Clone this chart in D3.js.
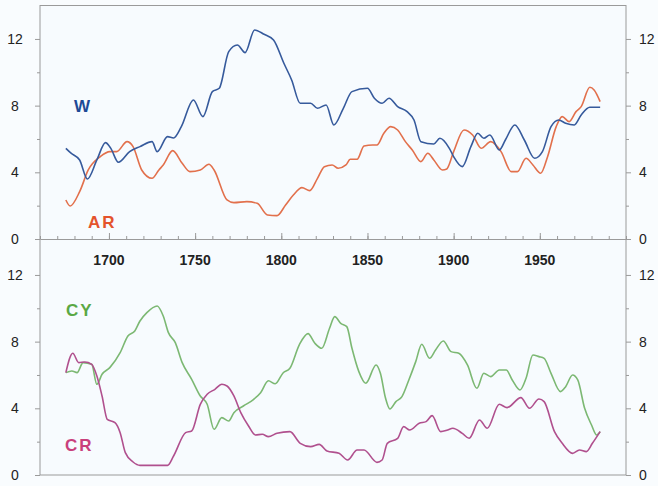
<!DOCTYPE html>
<html lang="en">
<head>
  <meta charset="UTF-8">
  <title>W, AR, CY, CR series</title>
  <style>
    body { margin: 0; background: #f9fcfe; }
    svg { display: block; font-family: "Liberation Sans", Arial, sans-serif; }
  </style>
  <script src="https://d3js.org/d3.v7.min.js"></script>
</head>
<body>
  <div id="chart"></div>

  <script>
    // values, [year, value]
    const wYears  = [1675,1678,1683,1687.5,1693,1698,1701,1705.5,1712,1718,1725,1728,1734,1737.5,1742,1749,1754.5,1760,1764,1769.5,1774.5,1779,1784.5,1790,1795.5,1801.5,1806,1811,1817,1821,1826,1830.5,1836,1841,1850,1854,1858.5,1862.5,1867.5,1873,1877,1881,1888.5,1892,1897.5,1900,1905,1910,1914,1917.5,1921,1926.5,1930,1935.5,1941,1947,1951.5,1956.5,1961,1965,1970,1974,1979,1985];
    const wValues = [5.44,5.15,4.74,3.6,4.74,5.78,5.45,4.6,5.24,5.54,5.84,5.24,6.14,6.06,6.74,8.34,7.34,8.84,9.04,11.24,11.64,11.18,12.54,12.28,11.94,10.54,9.54,8.14,8.14,7.84,8.04,6.84,7.84,8.84,9.04,8.44,8.14,8.44,7.94,7.64,7.14,5.84,5.7,6.04,5.44,4.94,4.34,5.54,6.34,6.04,6.24,5.34,5.94,6.84,5.94,4.84,5.24,6.74,7.14,6.94,6.84,7.44,7.9,7.9];

    const arYears  = [1675,1677.5,1683,1688,1695,1700.5,1704.5,1710.5,1714,1719,1725,1729,1731.5,1737,1742.5,1747,1753,1758,1761,1768.5,1772.5,1780,1786,1792,1797.5,1802.5,1807,1812,1816.5,1821,1825,1829.5,1833,1837.5,1840,1844,1848,1853,1855.5,1859.5,1863.5,1867.5,1872,1876,1881,1885,1888.5,1893.5,1896,1900,1906,1911,1916,1921.5,1927.5,1933.5,1937,1942,1946,1950.5,1954.5,1959.5,1963,1967,1971,1974,1979,1981.5,1985];
    const arValues = [2.34,1.98,2.84,4.14,4.94,5.24,5.24,5.84,5.54,4.14,3.64,4.14,4.44,5.3,4.54,4.04,4.14,4.48,4.14,2.34,2.18,2.24,2.14,1.44,1.4,2.04,2.64,3.08,2.9,3.64,4.34,4.44,4.24,4.44,4.78,4.78,5.58,5.64,5.64,6.34,6.74,6.54,5.84,5.34,4.64,5.14,4.74,4.14,4.2,5.24,6.54,6.24,5.44,5.84,5.24,4.04,4.04,4.84,4.44,3.94,4.94,6.74,7.34,7.04,7.64,7.94,9.1,8.94,8.24];

    const cyYears  = [1675,1678.5,1681.5,1685,1690,1693,1696,1700.5,1706.5,1711,1715,1718,1722,1728,1731.5,1734.5,1738.5,1742.5,1748,1753,1757,1761,1765.5,1769.5,1772.5,1778,1784,1788,1792.5,1796.5,1801,1805,1810.5,1815.5,1819.5,1823.5,1828,1831,1834.5,1838,1841,1845,1849,1855,1857.5,1860.5,1863,1866.5,1870,1874,1878,1881.5,1886,1889.5,1894,1898.5,1903,1908,1913.5,1917.5,1921.5,1926.5,1930.5,1934,1938.5,1942,1946,1949.5,1952.5,1956.5,1962,1965,1969,1972,1976,1980,1983,1985];
    const cyValues = [6.14,6.24,6.14,6.74,6.64,5.44,6.04,6.44,7.34,8.34,8.64,9.24,9.74,10.14,9.54,8.54,7.94,6.74,5.74,4.74,4.24,2.74,3.44,3.24,3.74,4.14,4.54,4.94,5.65,5.47,6.12,6.4,7.82,8.48,7.9,7.6,8.8,9.5,9.1,8.9,7.6,6.2,5.5,6.6,6.1,4.6,3.96,4.4,4.7,5.7,6.8,7.84,7.0,7.5,8.04,7.4,7.3,6.6,5.2,6.1,5.9,6.3,6.3,5.7,5.1,5.8,7.2,7.1,7.0,6.1,5.0,5.3,6.0,5.7,4.0,3.0,2.4,2.6];

    const crYears  = [1675,1679,1682.5,1686,1690,1693,1696,1699,1703.5,1706.5,1709.5,1714,1718,1734,1737.5,1744.5,1748,1753,1757,1761.5,1765.5,1768.5,1772.5,1776.5,1781,1785,1789,1792.5,1797.5,1805,1811,1817,1822,1826.5,1833.5,1838.5,1844,1848,1855.5,1858.5,1861.5,1867.5,1871,1874.5,1880,1884,1887.5,1892.5,1896.5,1899.5,1905,1909,1915,1919.5,1926.5,1931,1939,1944,1949.5,1952.5,1958.5,1963,1969,1973,1977,1980.5,1985];
    const crValues = [6.14,7.3,6.74,6.78,6.64,5.94,4.74,3.34,3.14,2.54,1.34,0.78,0.58,0.58,1.14,2.54,2.64,4.24,4.84,5.14,5.44,5.34,4.74,3.74,2.94,2.4,2.44,2.3,2.5,2.6,1.9,1.7,1.84,1.44,1.3,0.9,1.5,1.5,0.76,0.9,1.9,2.2,2.9,2.7,3.1,3.2,3.56,2.6,2.7,2.8,2.5,2.2,3.3,2.8,4.24,4.04,4.64,4.0,4.56,4.4,2.6,1.9,1.3,1.5,1.4,1.9,2.6];

    const yTicks = [0, 4, 8, 12];
    const yMinorTicks = [2, 6, 10];
    const xTicks = [1700, 1750, 1800, 1850, 1900, 1950];

    const width = 658, height = 486;
    const left = 40, right = 626;

    const svg = d3.select("#chart")
      .append("svg")
      .attr("width", width)
      .attr("height", height);

    const x = d3.scaleLinear().domain([1660, 2000]).range([left, right]);
    const y1 = d3.scaleLinear().domain([0, 14]).range([239, 5.6]);
    const y2 = d3.scaleLinear().domain([0, 14]).range([475, 241.6]);

    const frameColor = "#9a9a9a";

    // frame
    svg.append("rect")
      .attr("x", left).attr("y", 5.5)
      .attr("width", right - left).attr("height", 475 - 5.5)
      .attr("fill", "#f7fbfe")
      .attr("stroke", frameColor)
      .attr("stroke-width", 1);

    function yAxes(yScale) {
      svg.append("g")
        .attr("transform", `translate(${left},0)`)
        .call(d3.axisLeft(yScale).tickValues(yTicks).tickSize(5).tickFormat(""))
        .call(g => g.select(".domain").remove())
        .call(g => g.selectAll("line").attr("stroke", frameColor));
      svg.append("g")
        .attr("transform", `translate(${left},0)`)
        .call(d3.axisLeft(yScale).tickValues(yMinorTicks).tickSize(3).tickFormat(""))
        .call(g => g.select(".domain").remove())
        .call(g => g.selectAll("line").attr("stroke", frameColor));
      svg.append("g")
        .attr("transform", `translate(${right},0)`)
        .call(d3.axisRight(yScale).tickValues(yTicks).tickSize(5).tickFormat(""))
        .call(g => g.select(".domain").remove())
        .call(g => g.selectAll("line").attr("stroke", frameColor));
      svg.append("g")
        .attr("transform", `translate(${right},0)`)
        .call(d3.axisRight(yScale).tickValues(yMinorTicks).tickSize(3).tickFormat(""))
        .call(g => g.select(".domain").remove())
        .call(g => g.selectAll("line").attr("stroke", frameColor));

      yTicks.forEach(function(t) {
        svg.append("text")
          .attr("x", 15).attr("y", yScale(t) + 5)
          .attr("text-anchor", "middle")
          .style("font-size", "14px")
          .attr("fill", "#222")
          .text(t);
        svg.append("text")
          .attr("x", 639).attr("y", yScale(t) + 5)
          .attr("text-anchor", "start")
          .style("font-size", "14px")
          .attr("fill", "#222")
          .text(t);
      });
    }
    yAxes(y1);
    yAxes(y2);

    // x axis on the panel divider, ticks pointing up
    svg.append("g")
      .attr("transform", "translate(0,239)")
      .call(d3.axisTop(x).tickValues(d3.range(1670, 2000, 10)).tickSize(3).tickFormat(""))
      .call(g => g.selectAll("line").attr("stroke", frameColor))
      .call(g => g.select(".domain").attr("stroke", frameColor));
    svg.append("g")
      .attr("transform", "translate(0,239)")
      .call(d3.axisTop(x).tickValues(xTicks).tickSize(6).tickFormat(""))
      .call(g => g.select(".domain").remove())
      .call(g => g.selectAll("line").attr("stroke", frameColor));

    xTicks.forEach(function(t) {
      svg.append("text")
        .attr("x", x(t)).attr("y", 265)
        .attr("text-anchor", "middle")
        .style("font-size", "14px")
        .style("font-weight", "bold")
        .attr("fill", "#222")
        .text(t);
    });

    function drawLine(years, values, yScale, color) {
      const pts = years.map((yr, i) => [yr, values[i]]);
      svg.append("path")
        .datum(pts)
        .attr("fill", "none")
        .attr("stroke", color)
        .attr("stroke-width", 1.6)
        .attr("stroke-linejoin", "round")
        .attr("d", d3.line()
          .x(d => x(d[0]))
          .y(d => yScale(d[1]))
          .curve(d3.curveMonotoneX));
    }

    drawLine(arYears, arValues, y1, "#e2704c");
    drawLine(wYears, wValues, y1, "#365a9c");
    drawLine(cyYears, cyValues, y2, "#7cb873");
    drawLine(crYears, crValues, y2, "#b0508e");

    function label(txt, lx, ly, color) {
      svg.append("text")
        .attr("x", lx).attr("y", ly)
        .style("font-size", "17px")
        .style("font-weight", "bold")
        .style("letter-spacing", "2px")
        .attr("fill", color)
        .text(txt);
    }
    label("W", 74, 112, "#1d4a96");
    label("AR", 88, 228, "#e4532c");
    label("CY", 66, 316, "#5aa845");
    label("CR", 65, 451, "#c93f7c");
  </script>
</body>
</html>
